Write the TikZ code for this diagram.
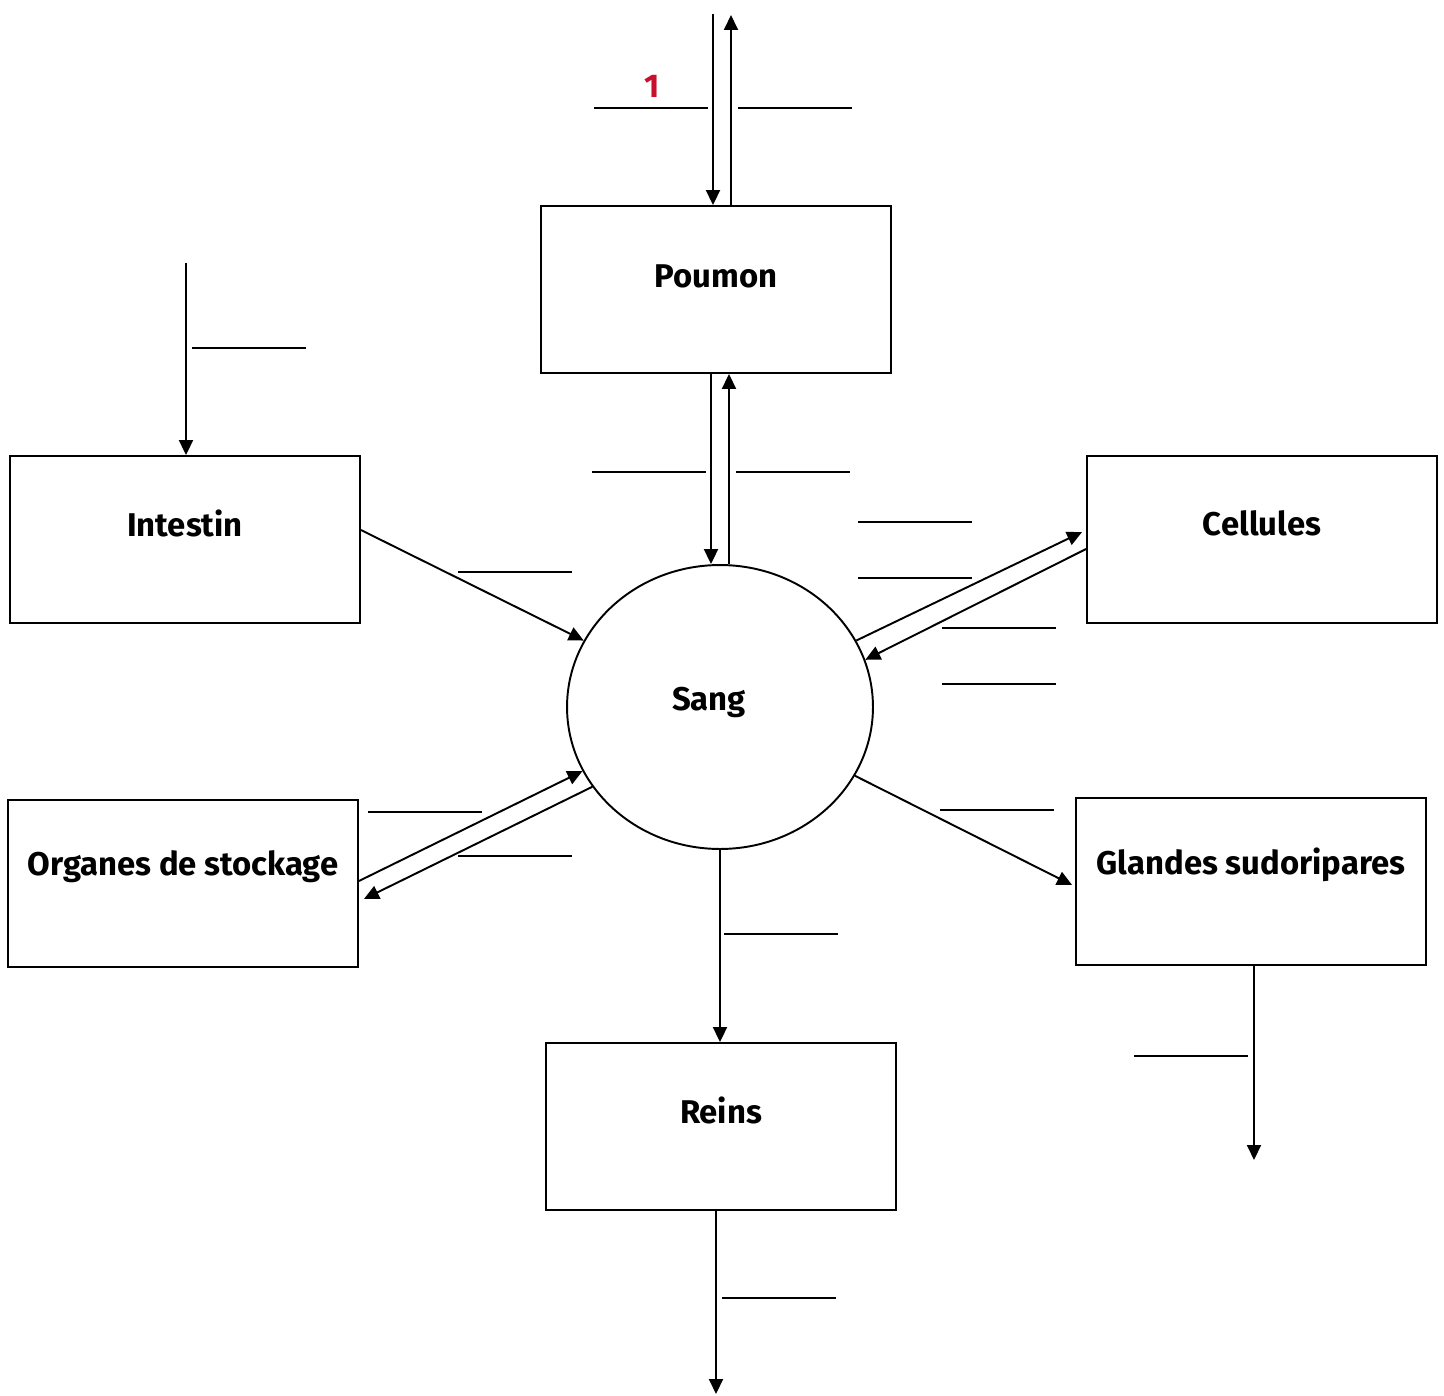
\documentclass[tikz,border=0pt]{standalone}
\usepackage{fontspec}
\setmainfont{Fira Sans}
\usepackage{tikz}
\usetikzlibrary{arrows.meta,shapes.geometric}
\definecolor{numcolor}{RGB}{200,16,46}
\tikzset{
  organ box/.style={
    rectangle,
    draw,
    line width=1.1pt,
    minimum width=7cm,
    minimum height=3.34cm,
    inner sep=0pt
  },
  blood/.style={
    ellipse,
    draw,
    line width=1.1pt,
    minimum width=6.12cm,
    minimum height=5.68cm,
    inner sep=0pt
  },
  organ text/.style={
    font=\fontsize{18.7}{22}\selectfont\bfseries
  },
  arrow/.style={
    -{Triangle[length=0.3cm,width=0.28cm]},
    line width=1.1pt
  },
  blank/.style={
    line width=1.1pt
  }
}

\begin{document}
\begin{tikzpicture}[x=0.02cm, y=-0.02cm]
  \useasboundingbox (0,0) rectangle (1444,1396);

  % Organs
  \node[organ box, label={[organ text, yshift=0.27cm]center:Poumon}] (poumon) at (716,289.5) {};
  \node[organ box, label={[organ text, yshift=0.33cm]center:Intestin}] (intestin) at (185,539.5) {};
  \node[organ box, label={[organ text, yshift=0.33cm]center:Cellules}] (cellules) at (1262,539.5) {};
  \node[organ box, label={[organ text, yshift=0.33cm]center:Organes de stockage}] (organes) at (183,883.5) {};
  \node[organ box, label={[organ text, yshift=0.33cm]center:Glandes sudoripares}] (glandes) at (1251,881.5) {};
  \node[organ box, label={[organ text, yshift=0.33cm]center:Reins}] (reins) at (721,1126.5) {};
  \node[blood, label={[organ text, xshift=-0.22cm, yshift=0.1cm]center:Sang}] (sang) at (720,707) {};

  % Free ends
  \coordinate (airin) at (713,14);
  \coordinate (airout) at (731,15);
  \coordinate (food) at (186,263);
  \coordinate (sweat) at (1254,1160);
  \coordinate (urine) at (716,1394);

  % Lungs
  \draw[arrow] (airin) -- (airin |- poumon.north);
  \draw[arrow] (airout |- poumon.north) -- (airout);
  \draw[arrow] ([xshift=-0.1cm]poumon.south) -- ([xshift=-0.1cm]poumon.south |- sang.north);
  \draw[arrow] ([xshift=0.26cm]poumon.south |- sang.north) -- ([xshift=0.26cm]poumon.south);

  % Intestine
  \draw[arrow] (food) -- (food |- intestin.north);
  \draw[arrow] ([yshift=0.19cm]intestin.east) -- (sang.154);

  % Cells
  \draw[arrow] (sang.26) -- ([xshift=-0.08cm, yshift=0.15cm]cellules.west);
  \draw[arrow] ([yshift=-0.19cm]cellules.west) -- (sang.18);

  % Storage
  \draw[arrow] ([yshift=0.05cm]organes.east) -- (sang.205);
  \draw[arrow] (sang.212) -- ([xshift=0.1cm, yshift=-0.31cm]organes.east);

  % Sweat glands and kidneys
  \draw[arrow] (sang.333) -- ([xshift=-0.06cm, yshift=-0.07cm]glandes.west);
  \draw[arrow] (sweat |- glandes.south) -- (sweat);
  \draw[arrow] (sang.south) -- (sang.south |- reins.north);
  \draw[arrow] (urine |- reins.south) -- (urine);

  % Blanks to fill in
  \foreach \x/\y in {594/108, 738/108, 592/472, 736/472, 192/348, 458/572,
                     858/522, 858/578, 942/628, 942/684, 368/812, 458/856,
                     940/810, 724/934, 1134/1056, 722/1298}
    \draw[blank] (\x,\y) -- ++(114,0);

  \node[organ text, text=numcolor] (num) at (652,86) {1};

\end{tikzpicture}
\end{document}
